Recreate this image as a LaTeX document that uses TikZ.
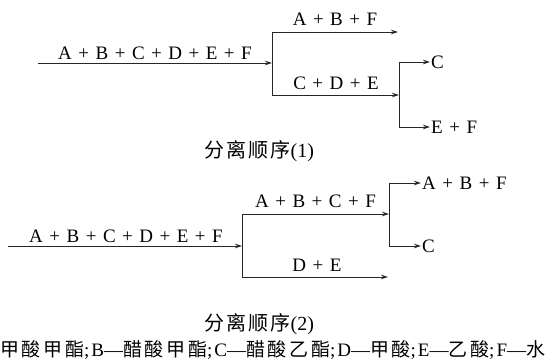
\documentclass[tikz,border=0pt]{standalone}
\usepackage{fontspec}
\setmainfont{Liberation Serif}
\newfontfamily\cjk[LetterSpace=11]{Noto Sans CJK SC}
\newfontfamily\cjkw[LetterSpace=14]{Noto Sans CJK SC}
\usetikzlibrary{arrows.meta}
\newcommand\pl{\hspace{6.5pt}+\hspace{6.5pt}}
\newcommand\semi{;\hspace{2pt}}
\begin{document}
\begin{tikzpicture}[x=1pt,y=-1pt,
  ln/.style={line width=0.9pt, draw=black!85},
  arr/.style={ln, -{Stealth[length=7pt,width=4.5pt]}},
  lbl/.style={font=\fontsize{19}{21}\selectfont, inner sep=0pt, anchor=base},
  endl/.style={font=\fontsize{19}{21}\selectfont, inner sep=0pt, outer xsep=1.2pt, anchor=west},
  capt/.style={font=\fontsize{20}{22}\selectfont, inner sep=0pt}]
\useasboundingbox (0,0) rectangle (555,361);
% ---------- scheme (1)
\coordinate (a0) at (38,63);
\coordinate (a1) at (272,63);
\coordinate (a1t) at (272,32);
\coordinate (a1b) at (272,95);
\coordinate (a2t) at (398,32);
\coordinate (a2) at (399,95);
\coordinate (a2c) at (399,62);
\coordinate (a2e) at (399,127);
\node[lbl] (l1) at (155,60) {A\pl B\pl C\pl D\pl E\pl F};
\node[lbl] (l2) at (335,26) {A\pl B\pl F};
\node[lbl] (l3) at (336,90) {C\pl D\pl E};
\node[endl] (c1) at (430,62) {C};
\node[endl] (ef1) at (430,127) {E\pl F};
\draw[arr] (a0) -- (a1);
\draw[ln] (a1t) -- (a1b);
\draw[arr] (a1t) -- (a2t);
\draw[arr] (a1b) -- (a2);
\draw[ln] (a2c) -- (a2e);
\draw[arr] (a2c) -- (c1.west);
\draw[arr] (a2e) -- (ef1.west);
\node[capt] (cap1) at (259,151) {{\cjk 分离顺序}(1)};
% ---------- scheme (2)
\coordinate (b0) at (8,246);
\coordinate (b1) at (242,246);
\coordinate (b1t) at (242,214);
\coordinate (b1b) at (242,277);
\coordinate (b2) at (389,214);
\coordinate (b2b) at (388,277);
\coordinate (b2t) at (389,183);
\coordinate (b2c) at (389,246);
\node[lbl] (m1) at (126,242) {A\pl B\pl C\pl D\pl E\pl F};
\node[lbl] (m2) at (315.5,207) {A\pl B\pl C\pl F};
\node[lbl] (m3) at (317,271.5) {D\pl E};
\node[endl] (abf2) at (421,183) {A\pl B\pl F};
\node[endl] (c2) at (421,246) {C};
\draw[arr] (b0) -- (b1);
\draw[ln] (b1t) -- (b1b);
\draw[arr] (b1t) -- (b2);
\draw[arr] (b1b) -- (b2b);
\draw[ln] (b2t) -- (b2c);
\draw[arr] (b2t) -- (abf2.west);
\draw[arr] (b2c) -- (c2.west);
\node[capt] (cap2) at (259,324) {{\cjk 分离顺序}(2)};
% ---------- legend
\node[font=\fontsize{19}{21}\selectfont, inner sep=0pt, anchor=west] (leg) at (0,350)
  {{\cjkw 甲酸甲酯}\semi B—{\cjkw 醋酸甲酯}\semi C—{\cjkw 醋酸乙酯}\semi D—{\cjkw 甲酸}\semi E—{\cjkw 乙酸}\semi F—{\cjkw 水}};
\end{tikzpicture}
\end{document}
